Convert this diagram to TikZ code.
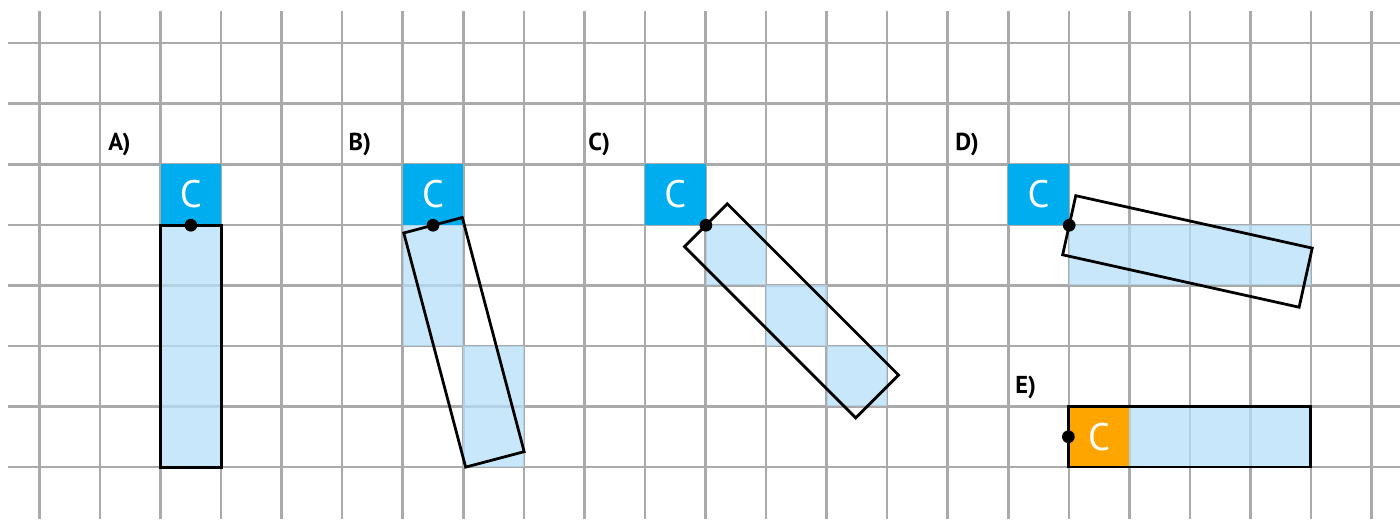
\documentclass[tikz,border=0pt]{standalone}
\usepackage{fontspec}
\setmainfont{PT Sans}
\usetikzlibrary{shapes}
\definecolor{cblue}{RGB}{0,174,239}
\definecolor{cpale}{RGB}{183,223,248}
\definecolor{corange}{RGB}{255,165,0}
\definecolor{gridgray}{RGB}{170,170,170}
\tikzset{
	grid_line/.style = {
		draw=gridgray,
		line width=1.2pt
	},
	node_label/.style = {
		font=\fontsize{11.5}{13}\selectfont\bfseries,
		inner sep=0pt,
		anchor=west
	},
	node_c/.style = {
		rectangle,
		fill=cblue,
		text=white,
		font=\fontsize{18}{20}\selectfont,
		minimum size=1cm,
		inner sep=0pt
	},
	node_c_e/.style = {
		node_c,
		fill=corange
	},
	node_cell/.style = {
		rectangle,
		fill=cpale,
		fill opacity=0.75,
		minimum size=1cm,
		inner sep=0pt
	},
	node_bar/.style = {
		rectangle,
		draw=black,
		line width=1.3pt,
		minimum width=1cm,
		minimum height=4cm,
		inner sep=0pt,
		outer sep=0pt,
		anchor=north
	},
	node_bar_filled/.style = {
		node_bar,
		fill=cpale,
		fill opacity=0.75
	},
	node_pivot/.style = {
		circle,
		fill=black,
		minimum size=0.21cm,
		inner sep=0pt
	}
}
\begin{document}
\begin{tikzpicture}
\useasboundingbox (-0.652,-0.859) rectangle (22.47,7.713);
\foreach \x in {0,...,22}
	\draw[grid_line] (\x,-0.86) -- (\x,7.53);
\foreach \y in {0,...,7}
	\draw[grid_line] (-0.52,\y) -- (22.47,\y);

\node[node_label] (labA) at (1.13,5.32) {A)};
\node[node_c] (cA) at (2.5,4.5) {C};
\node[node_bar_filled] (barA) at (cA.south) {};
\node[node_pivot] (pivA) at (barA.north) {};

\node[node_label] (labB) at (5.10,5.32) {B)};
\node[node_c] (cB) at (6.5,4.5) {C};
\foreach \i/\x/\y in {1/6.5/3.5, 2/6.5/2.5, 3/7.5/1.5, 4/7.5/0.5}
	\node[node_cell] (cellB\i) at (\x,\y) {};
\node[node_bar, rotate=14.8] (barB) at (cB.south) {};
\node[node_pivot] (pivB) at (barB.north) {};

\node[node_label] (labC) at (9.06,5.32) {C)};
\node[node_c] (cC) at (10.5,4.5) {C};
\foreach \i/\x/\y in {1/11.5/3.5, 2/12.5/2.5, 3/13.5/1.5}
	\node[node_cell] (cellC\i) at (\x,\y) {};
\node[node_bar, rotate=45] (barC) at (cC.south east) {};
\node[node_pivot] (pivC) at (barC.north) {};

\node[node_label] (labD) at (15.12,5.32) {D)};
\node[node_c] (cD) at (16.5,4.5) {C};
\foreach \i in {1,...,4}
	\node[node_cell] (cellD\i) at (16.5+\i,3.5) {};
\node[node_bar, rotate=77.5] (barD) at (cD.south east) {};
\node[node_pivot] (pivD) at (barD.north) {};

\node[node_label] (labE) at (16.11,1.32) {E)};
\node[node_c_e] (cE) at (17.5,0.5) {C};
\foreach \i in {1,...,3}
	\node[node_cell] (cellE\i) at (17.5+\i,0.5) {};
\node[node_bar, rotate=90] (barE) at (cE.west) {};
\node[node_pivot] (pivE) at (barE.north) {};
\end{tikzpicture}
\end{document}
